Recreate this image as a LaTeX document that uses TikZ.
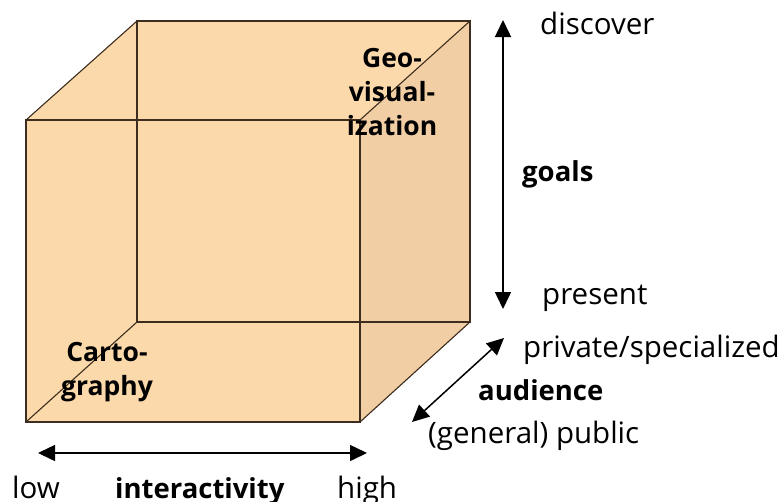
\documentclass[tikz,border=0pt]{standalone}
\usepackage{fontspec}
\setmainfont{Open Sans}
\usepackage{xcolor}
\usetikzlibrary{arrows.meta}
\definecolor{cubefront}{RGB}{252, 217, 170}
\definecolor{cubeside}{RGB}{242, 206, 164}
\definecolor{cubeedge}{RGB}{60, 45, 30}

\begin{document}
\begin{tikzpicture}[x=1pt, y=-1pt,
            edge/.style = {draw=cubeedge, line width=1.1pt},
            axis/.style = {line width=1.5pt, {Triangle[length=17pt,width=16pt]}-{Triangle[length=17pt,width=16pt]}},
        axistext/.style = {anchor=base west, inner sep=0pt, font=\fontsize{29.5}{33}\selectfont},
       axistitle/.style = {anchor=base west, inner sep=0pt, font=\fontsize{27.5}{32}\selectfont\bfseries},
      cornertext/.style = {align=center, inner sep=0pt, font=\fontsize{26.5}{34}\selectfont\bfseries}]
    \useasboundingbox (0,0) rectangle (784,501);
    \coordinate (fnw) at (26,120);  \coordinate (fne) at (360,120);
    \coordinate (fse) at (360,422); \coordinate (fsw) at (26,422);
    \coordinate (bnw) at (137,21);  \coordinate (bne) at (470,21);
    \coordinate (bse) at (470,322); \coordinate (bsw) at (137,322);
    \fill[cubefront] (fsw) -- (fnw) -- (bnw) -- (bne) -- (bse) -- (fse) -- cycle;
    \fill[cubeside] (fne) -- (bne) -- (bse) -- (fse) -- cycle;
    \draw[edge] (bsw) -- (bnw) -- (bne) -- (bse) -- cycle;
    \draw[edge] (fsw) -- (fnw) -- (fne) -- (fse) -- cycle;
    \foreach \c in {nw,ne,se,sw}
        \draw[edge] (f\c) -- (b\c);
    \node[cornertext] (geo) at (392,92) {Geo-\\visual-\\ization};
    \node[cornertext] (carto) at (107,372) {Carto-\\graphy};
    \coordinate (lowend) at (38,453);   \coordinate (highend) at (367,453);
    \coordinate (discend) at (503,20);  \coordinate (presend) at (503,309);
    \coordinate (pubend) at (412,422);  \coordinate (privend) at (504,338);
    \draw[axis] (lowend) -- (highend);
    \draw[axis] (presend) -- (discend);
    \draw[axis] (pubend) -- (privend);
    \node[axistext] (low) at (12,498) {low};
    \node[axistitle] (inter) at (115,498) {interactivity};
    \node[axistext] (high) at (337,498) {high};
    \node[axistext] (disc) at (540,34) {discover};
    \node[axistitle] (goals) at (522,181) {goals};
    \node[axistext] (pres) at (542,304) {present};
    \node[axistext] (priv) at (523,357) {private/specialized};
    \node[axistitle] (aud) at (478,400) {audience};
    \node[axistext] (pub) at (428,443) {(general) public};
\end{tikzpicture}
\end{document}
